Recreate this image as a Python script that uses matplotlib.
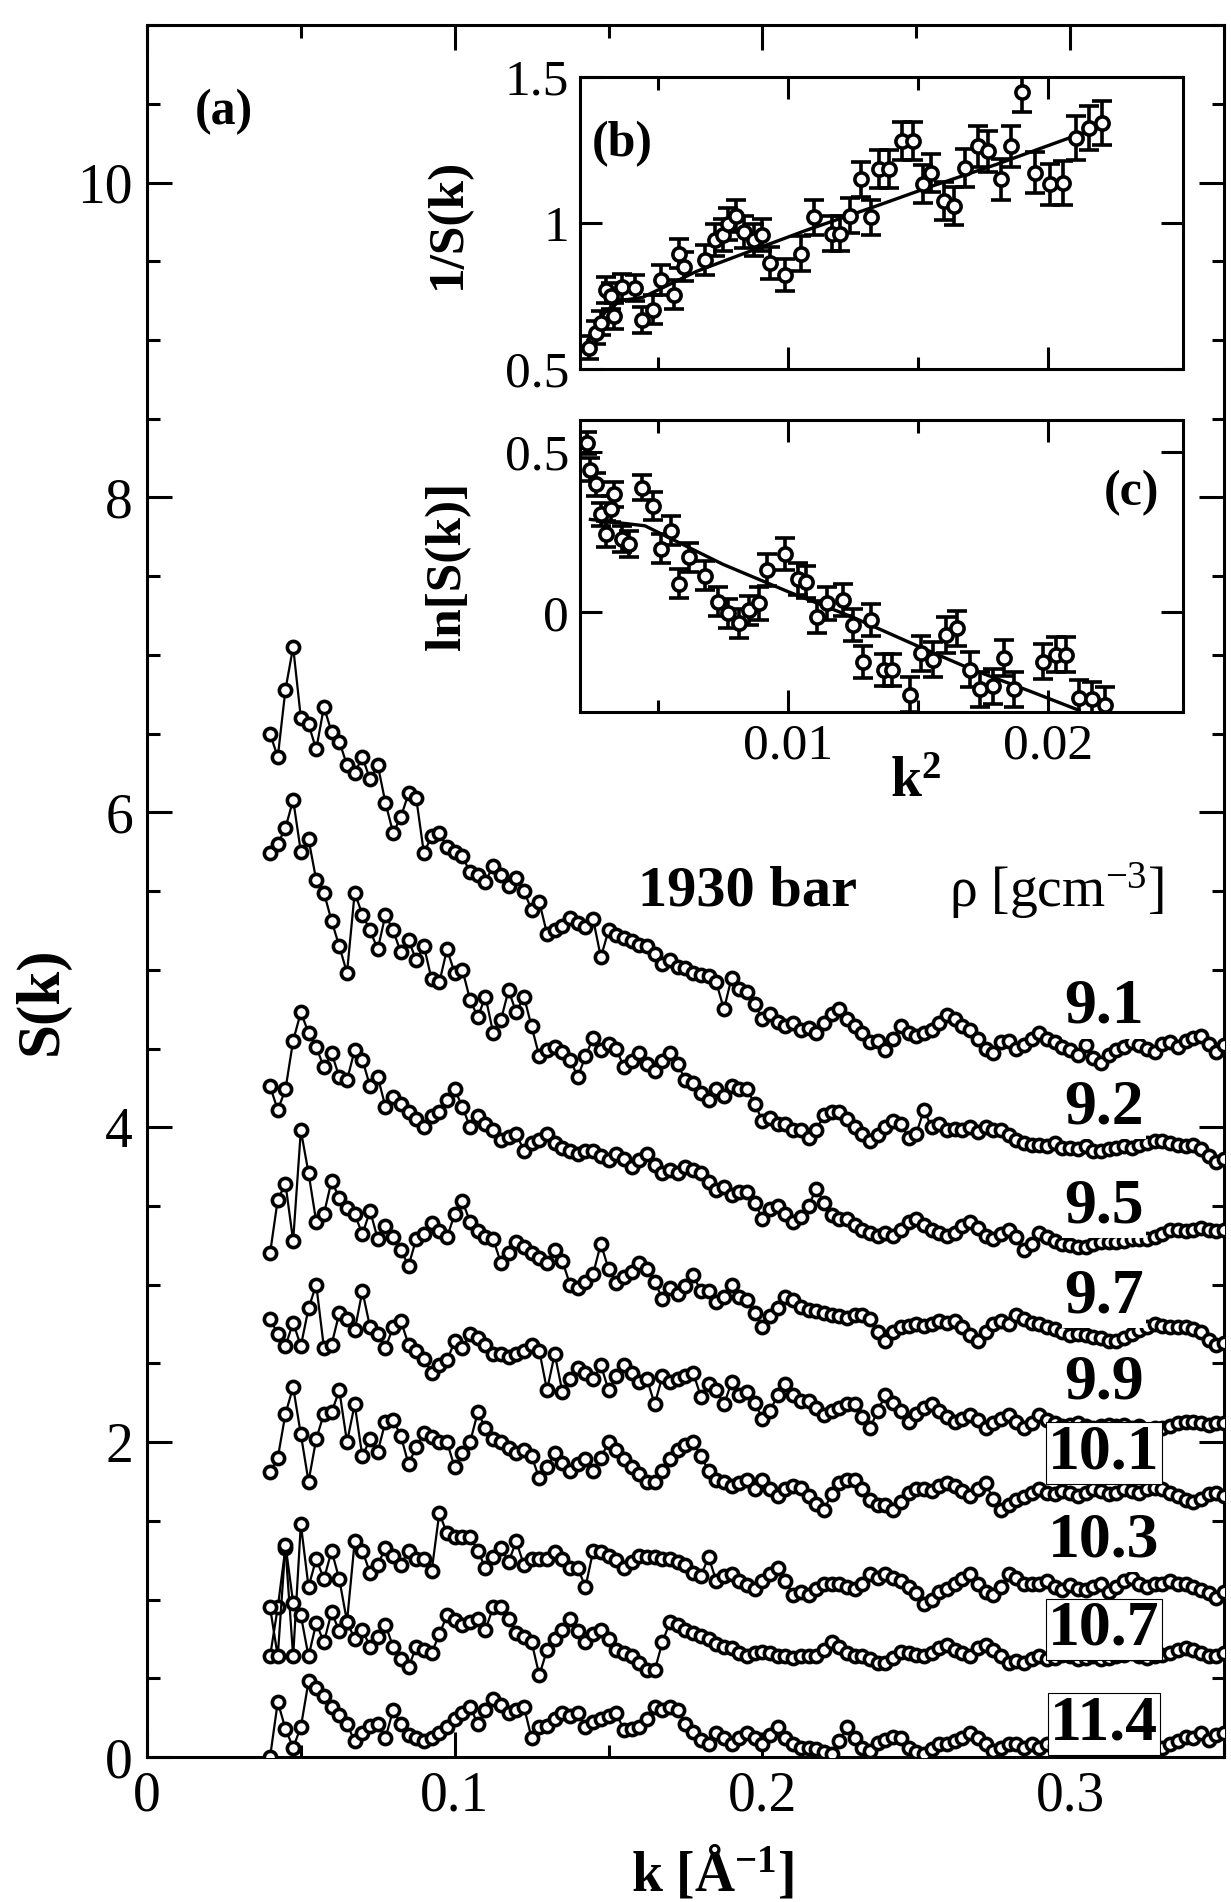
import numpy as np
import matplotlib
matplotlib.use('Agg')
import matplotlib.pyplot as plt
from matplotlib.ticker import MultipleLocator, FixedLocator, FixedFormatter

plt.rcParams['font.family'] = ['Liberation Serif', 'DejaVu Serif']
plt.rcParams['mathtext.fontset'] = 'custom'
plt.rcParams['mathtext.rm'] = 'Liberation Serif'
plt.rcParams['mathtext.bf'] = 'Liberation Serif:bold'
plt.rcParams['mathtext.it'] = 'Liberation Serif:italic'

# ---------------- data: main panel (a) ----------------
K_START = 0.040   # first k [1/A]
K_STEP = 0.0025   # k sampling step

densities = ['9.1', '9.2', '9.5', '9.7', '9.9', '10.1', '10.3', '10.7', '11.4']

S_9_1 = [6.50, 6.35, 6.78, 7.05, 6.60, 6.56, 6.40, 6.67, 6.51, 6.45,
         6.30, 6.25, 6.35, 6.21, 6.30, 6.06, 5.87, 5.97, 6.12, 6.09,
         5.74, 5.85, 5.87, 5.78, 5.75, 5.72, 5.62, 5.60, 5.56, 5.66,
         5.60, 5.53, 5.58, 5.50, 5.38, 5.43, 5.23, 5.25, 5.28, 5.33,
         5.30, 5.27, 5.32, 5.08, 5.25, 5.22, 5.20, 5.18, 5.16, 5.15,
         5.10, 5.04, 5.06, 5.02, 5.01, 4.98, 4.97, 4.96, 4.92, 4.75,
         4.95, 4.88, 4.86, 4.78, 4.69, 4.72, 4.67, 4.64, 4.66, 4.62,
         4.63, 4.60, 4.66, 4.72, 4.75, 4.69, 4.64, 4.60, 4.54, 4.55,
         4.49, 4.56, 4.64, 4.60, 4.58, 4.60, 4.62, 4.66, 4.71, 4.69,
         4.64, 4.62, 4.56, 4.50, 4.47, 4.54, 4.55, 4.50, 4.52, 4.56,
         4.60, 4.56, 4.54, 4.51, 4.49, 4.46, 4.52, 4.44, 4.41, 4.46,
         4.49, 4.51, 4.54, 4.52, 4.50, 4.48, 4.53, 4.54, 4.51, 4.55,
         4.57, 4.58, 4.53, 4.48, 4.52]

S_9_2 = [5.74, 5.80, 5.90, 6.08, 5.75, 5.83, 5.57, 5.49, 5.31, 5.15,
         4.98, 5.49, 5.35, 5.25, 5.13, 5.35, 5.25, 5.11, 5.19, 5.06,
         5.15, 4.94, 4.92, 5.13, 4.98, 5.00, 4.81, 4.70, 4.83, 4.60,
         4.68, 4.87, 4.73, 4.83, 4.64, 4.45, 4.49, 4.51, 4.48, 4.43,
         4.32, 4.45, 4.57, 4.49, 4.53, 4.50, 4.38, 4.42, 4.47, 4.40,
         4.36, 4.42, 4.47, 4.40, 4.30, 4.28, 4.22, 4.17, 4.24, 4.20,
         4.26, 4.24, 4.24, 4.15, 4.04, 4.06, 4.02, 4.02, 3.98, 3.98,
         3.93, 3.98, 4.08, 4.10, 4.10, 4.05, 4.00, 3.96, 3.91, 3.95,
         4.00, 4.04, 4.02, 3.93, 3.96, 4.11, 4.00, 4.02, 3.98, 3.99,
         3.98, 4.00, 3.97, 4.00, 3.98, 3.98, 3.95, 3.92, 3.90, 3.89,
         3.89, 3.88, 3.90, 3.87, 3.87, 3.86, 3.88, 3.85, 3.85, 3.86,
         3.87, 3.88, 3.87, 3.89, 3.90, 3.91, 3.91, 3.90, 3.89, 3.88,
         3.89, 3.86, 3.82, 3.78, 3.80]

S_9_5 = [4.26, 4.11, 4.24, 4.55, 4.73, 4.60, 4.51, 4.38, 4.47, 4.32,
         4.30, 4.49, 4.43, 4.26, 4.32, 4.13, 4.19, 4.15, 4.10, 4.05,
         4.00, 4.07, 4.10, 4.17, 4.24, 4.13, 4.00, 4.07, 4.02, 3.98,
         3.92, 3.94, 3.96, 3.85, 3.90, 3.92, 3.96, 3.90, 3.87, 3.85,
         3.83, 3.85, 3.85, 3.82, 3.79, 3.83, 3.80, 3.75, 3.79, 3.83,
         3.76, 3.71, 3.73, 3.71, 3.75, 3.73, 3.71, 3.65, 3.60, 3.62,
         3.57, 3.59, 3.59, 3.52, 3.42, 3.48, 3.50, 3.45, 3.40, 3.43,
         3.50, 3.61, 3.52, 3.44, 3.42, 3.42, 3.38, 3.35, 3.33, 3.31,
         3.33, 3.31, 3.35, 3.40, 3.42, 3.38, 3.35, 3.33, 3.31, 3.33,
         3.37, 3.40, 3.36, 3.31, 3.29, 3.32, 3.35, 3.30, 3.22, 3.26,
         3.33, 3.30, 3.28, 3.26, 3.25, 3.24, 3.24, 3.26, 3.27, 3.27,
         3.27, 3.28, 3.29, 3.29, 3.29, 3.30, 3.32, 3.35, 3.35, 3.34,
         3.35, 3.36, 3.35, 3.34, 3.35]

S_9_7 = [3.20, 3.54, 3.64, 3.28, 3.98, 3.71, 3.40, 3.45, 3.66, 3.55,
         3.49, 3.45, 3.32, 3.47, 3.29, 3.37, 3.30, 3.22, 3.12, 3.29,
         3.32, 3.39, 3.34, 3.30, 3.45, 3.53, 3.40, 3.34, 3.30, 3.29,
         3.14, 3.20, 3.27, 3.24, 3.20, 3.17, 3.14, 3.22, 3.15, 3.00,
         2.98, 3.02, 3.07, 3.26, 3.10, 3.01, 3.05, 3.08, 3.14, 3.10,
         3.02, 2.91, 2.98, 2.94, 2.99, 3.06, 2.96, 2.96, 2.89, 2.92,
         3.00, 2.92, 2.90, 2.82, 2.73, 2.80, 2.85, 2.92, 2.90, 2.86,
         2.84, 2.83, 2.82, 2.81, 2.80, 2.79, 2.81, 2.81, 2.78, 2.70,
         2.64, 2.70, 2.73, 2.74, 2.75, 2.74, 2.75, 2.77, 2.76, 2.77,
         2.73, 2.68, 2.64, 2.70, 2.75, 2.77, 2.75, 2.81, 2.78, 2.76,
         2.75, 2.73, 2.72, 2.70, 2.68, 2.69, 2.68, 2.67, 2.66, 2.64,
         2.64, 2.66, 2.69, 2.71, 2.73, 2.75, 2.74, 2.73, 2.73, 2.73,
         2.72, 2.70, 2.65, 2.62, 2.63]

S_9_9 = [2.78, 2.69, 2.61, 2.76, 2.61, 2.85, 3.00, 2.60, 2.62, 2.82,
         2.78, 2.71, 2.96, 2.73, 2.69, 2.60, 2.73, 2.77, 2.62, 2.58,
         2.53, 2.44, 2.49, 2.52, 2.64, 2.60, 2.69, 2.66, 2.62, 2.56,
         2.56, 2.54, 2.56, 2.58, 2.62, 2.58, 2.33, 2.56, 2.32, 2.40,
         2.47, 2.44, 2.40, 2.49, 2.33, 2.42, 2.49, 2.44, 2.38, 2.40,
         2.24, 2.42, 2.38, 2.40, 2.42, 2.44, 2.29, 2.37, 2.33, 2.24,
         2.38, 2.30, 2.32, 2.25, 2.15, 2.20, 2.30, 2.37, 2.30, 2.26,
         2.26, 2.22, 2.17, 2.20, 2.22, 2.24, 2.24, 2.16, 2.09, 2.20,
         2.30, 2.25, 2.20, 2.13, 2.18, 2.22, 2.24, 2.20, 2.16, 2.13,
         2.15, 2.17, 2.14, 2.09, 2.12, 2.15, 2.17, 2.13, 2.09, 2.12,
         2.17, 2.14, 2.12, 2.10, 2.11, 2.12, 2.10, 2.09, 2.10, 2.11,
         2.10, 2.11, 2.09, 2.10, 2.08, 2.09, 2.09, 2.10, 2.12, 2.13,
         2.13, 2.12, 2.11, 2.12, 2.12]

S_10_1 = [1.81, 1.90, 2.18, 2.35, 2.05, 1.75, 2.02, 2.18, 2.19, 2.33,
          2.00, 2.24, 1.91, 2.02, 1.94, 2.13, 2.14, 2.04, 1.86, 1.97,
          2.06, 2.03, 2.00, 2.00, 1.84, 1.93, 2.00, 2.19, 2.09, 2.02,
          2.00, 1.96, 1.93, 1.95, 1.91, 1.77, 1.84, 1.93, 1.87, 1.82,
          1.86, 1.89, 1.82, 1.90, 2.00, 1.95, 1.89, 1.84, 1.80, 1.75,
          1.75, 1.82, 1.89, 1.95, 1.98, 2.00, 1.91, 1.82, 1.76, 1.75,
          1.72, 1.74, 1.76, 1.70, 1.76, 1.70, 1.66, 1.70, 1.72, 1.71,
          1.66, 1.61, 1.57, 1.67, 1.74, 1.76, 1.76, 1.70, 1.63, 1.60,
          1.60, 1.57, 1.62, 1.68, 1.70, 1.70, 1.69, 1.72, 1.74, 1.72,
          1.69, 1.66, 1.70, 1.74, 1.64, 1.57, 1.60, 1.63, 1.65, 1.68,
          1.70, 1.68, 1.67, 1.69, 1.68, 1.66, 1.68, 1.70, 1.69, 1.67,
          1.68, 1.70, 1.69, 1.68, 1.70, 1.71, 1.70, 1.68, 1.66, 1.63,
          1.62, 1.64, 1.67, 1.68, 1.66]

S_10_3 = [0.64, 0.95, 1.33, 0.64, 1.48, 1.08, 1.26, 1.13, 1.31, 1.13,
          0.86, 1.37, 1.31, 1.17, 1.22, 1.33, 1.28, 1.22, 1.31, 1.26,
          1.26, 1.18, 1.55, 1.42, 1.40, 1.40, 1.40, 1.31, 1.20, 1.27,
          1.33, 1.24, 1.37, 1.22, 1.26, 1.26, 1.26, 1.30, 1.26, 1.20,
          1.20, 1.08, 1.31, 1.30, 1.28, 1.25, 1.20, 1.24, 1.28, 1.27,
          1.27, 1.26, 1.26, 1.24, 1.22, 1.17, 1.15, 1.27, 1.12, 1.15,
          1.16, 1.12, 1.09, 1.07, 1.12, 1.16, 1.20, 1.12, 1.03, 1.05,
          1.03, 1.07, 1.10, 1.10, 1.10, 1.08, 1.07, 1.10, 1.16, 1.14,
          1.16, 1.14, 1.12, 1.08, 1.04, 0.97, 1.00, 1.05, 1.07, 1.10,
          1.13, 1.16, 1.10, 1.05, 1.03, 1.08, 1.16, 1.14, 1.10, 1.10,
          1.10, 1.12, 1.08, 1.06, 1.09, 1.07, 1.06, 1.08, 1.10, 1.05,
          1.08, 1.12, 1.14, 1.10, 1.08, 1.10, 1.10, 1.12, 1.10, 1.10,
          1.08, 1.06, 1.04, 1.01, 1.05]

S_10_7 = [0.95, 0.64, 1.35, 0.98, 0.90, 0.64, 0.85, 0.73, 0.92, 0.80,
          0.86, 0.75, 0.81, 0.70, 0.76, 0.84, 0.70, 0.62, 0.57, 0.70,
          0.68, 0.66, 0.78, 0.90, 0.87, 0.84, 0.86, 0.88, 0.81, 0.95,
          0.95, 0.88, 0.79, 0.76, 0.73, 0.52, 0.68, 0.75, 0.81, 0.88,
          0.80, 0.73, 0.78, 0.81, 0.75, 0.68, 0.66, 0.64, 0.60, 0.55,
          0.55, 0.73, 0.86, 0.84, 0.81, 0.79, 0.77, 0.75, 0.72, 0.70,
          0.69, 0.66, 0.64, 0.66, 0.67, 0.66, 0.64, 0.64, 0.63, 0.64,
          0.64, 0.64, 0.68, 0.73, 0.70, 0.66, 0.64, 0.64, 0.62, 0.60,
          0.60, 0.63, 0.67, 0.66, 0.65, 0.64, 0.66, 0.69, 0.71, 0.68,
          0.66, 0.64, 0.69, 0.71, 0.68, 0.64, 0.60, 0.61, 0.60, 0.62,
          0.64, 0.62, 0.63, 0.65, 0.64, 0.62, 0.63, 0.64, 0.62, 0.63,
          0.64, 0.65, 0.66, 0.64, 0.63, 0.64, 0.65, 0.66, 0.68, 0.69,
          0.68, 0.66, 0.64, 0.64, 0.66]

S_11_4 = [0.00, 0.35, 0.18, 0.06, 0.19, 0.48, 0.44, 0.39, 0.32, 0.27,
          0.21, 0.10, 0.15, 0.20, 0.21, 0.12, 0.30, 0.21, 0.14, 0.12,
          0.10, 0.12, 0.15, 0.19, 0.24, 0.28, 0.32, 0.21, 0.30, 0.37,
          0.33, 0.28, 0.30, 0.32, 0.12, 0.19, 0.20, 0.24, 0.28, 0.26,
          0.28, 0.19, 0.22, 0.24, 0.26, 0.28, 0.17, 0.18, 0.19, 0.24,
          0.32, 0.30, 0.32, 0.30, 0.21, 0.16, 0.11, 0.08, 0.15, 0.12,
          0.08, 0.12, 0.15, 0.12, 0.08, 0.14, 0.19, 0.12, 0.08, 0.06,
          0.06, 0.05, 0.03, 0.02, 0.10, 0.19, 0.12, 0.06, 0.04, 0.09,
          0.11, 0.13, 0.12, 0.06, 0.03, 0.02, 0.05, 0.08, 0.08, 0.10,
          0.12, 0.15, 0.12, 0.08, 0.04, 0.06, 0.08, 0.08, 0.06, 0.08,
          0.06, 0.08, 0.07, 0.06, 0.05, 0.06, 0.07, 0.05, 0.06, 0.05,
          0.05, 0.06, 0.05, 0.04, 0.05, 0.04, 0.06, 0.08, 0.10, 0.13,
          0.12, 0.15, 0.11, 0.14, 0.15]

series = [S_9_1, S_9_2, S_9_5, S_9_7, S_9_9, S_10_1, S_10_3, S_10_7, S_11_4]

# ---------------- data: inset (b) 1/S(k) vs k^2 ----------------
k2_b = [0.00235, 0.0026, 0.0028, 0.0030, 0.0032, 0.0033, 0.0036, 0.0041, 0.0044, 0.0048,
        0.0051, 0.0056, 0.0058, 0.0060, 0.0068, 0.0072, 0.0075, 0.0077, 0.0080, 0.0083,
        0.0087, 0.0090, 0.0093, 0.0099, 0.0105, 0.0110, 0.0117, 0.0120, 0.0124, 0.0128,
        0.0132, 0.0135, 0.0139, 0.0144, 0.0148, 0.0152, 0.0155, 0.0160, 0.0164, 0.0168,
        0.0173, 0.0177, 0.0182, 0.0186, 0.0190, 0.0195, 0.0201, 0.0206, 0.0211, 0.0216,
        0.0221]
invS_b = [0.573, 0.624, 0.658, 0.771, 0.749, 0.681, 0.782, 0.777, 0.669, 0.703,
          0.805, 0.754, 0.895, 0.850, 0.873, 0.941, 0.958, 0.997, 1.025, 0.969,
          0.941, 0.958, 0.862, 0.822, 0.895, 1.020, 0.963, 0.963, 1.025, 1.150,
          1.020, 1.184, 1.184, 1.280, 1.280, 1.133, 1.172, 1.076, 1.059, 1.189,
          1.263, 1.246, 1.150, 1.263, 1.449, 1.172, 1.133, 1.138, 1.291, 1.325,
          1.342]
err_b = [0.040, 0.040, 0.040, 0.045, 0.045, 0.045, 0.045, 0.045, 0.045, 0.050,
         0.050, 0.050, 0.050, 0.050, 0.050, 0.055, 0.055, 0.055, 0.055, 0.055,
         0.055, 0.055, 0.055, 0.055, 0.060, 0.060, 0.060, 0.060, 0.060, 0.060,
         0.060, 0.065, 0.065, 0.065, 0.065, 0.065, 0.065, 0.065, 0.065, 0.065,
         0.070, 0.070, 0.070, 0.070, 0.070, 0.070, 0.070, 0.075, 0.075, 0.075,
         0.075]
fit_b_k2 = [0.0023, 0.0030, 0.0036, 0.0044, 0.0065, 0.0088, 0.0107, 0.0133, 0.0155, 0.0180, 0.0214]
fit_b_val = [0.600, 0.700, 0.735, 0.745, 0.835, 0.912, 0.975, 1.055, 1.125, 1.200, 1.310]

# ---------------- data: inset (c) ln S(k) vs k^2 ----------------
k2_c = [0.00225, 0.0024, 0.0026, 0.0028, 0.0030, 0.0032, 0.0033, 0.0036, 0.0039, 0.0044,
        0.0048, 0.0051, 0.0055, 0.0058, 0.0062, 0.0068, 0.0073, 0.0077, 0.0081, 0.0085,
        0.0089, 0.0092, 0.0099, 0.0104, 0.0107, 0.0111, 0.0115, 0.0121, 0.0125, 0.0129,
        0.0132, 0.0137, 0.0140, 0.0147, 0.0151, 0.0156, 0.0161, 0.0165, 0.0170, 0.0174,
        0.0179, 0.0183, 0.0187, 0.0198, 0.0203, 0.0207, 0.0212, 0.0217, 0.0222]
lnS_c = [0.528, 0.445, 0.399, 0.306, 0.244, 0.322, 0.368, 0.229, 0.213, 0.389,
         0.332, 0.198, 0.255, 0.090, 0.172, 0.115, 0.033, -0.003, -0.034, 0.007,
         0.028, 0.131, 0.182, 0.105, 0.095, -0.013, 0.028, 0.038, -0.039, -0.153,
         -0.024, -0.178, -0.178, -0.256, -0.127, -0.147, -0.070, -0.049, -0.178, -0.240,
         -0.230, -0.142, -0.240, -0.153, -0.132, -0.132, -0.266, -0.271, -0.287]
err_c = [0.035, 0.035, 0.035, 0.035, 0.040, 0.040, 0.040, 0.040, 0.040, 0.040,
         0.045, 0.045, 0.045, 0.045, 0.045, 0.045, 0.045, 0.045, 0.045, 0.045,
         0.050, 0.050, 0.050, 0.050, 0.050, 0.050, 0.050, 0.050, 0.050, 0.050,
         0.050, 0.050, 0.050, 0.055, 0.055, 0.055, 0.055, 0.055, 0.055, 0.055,
         0.055, 0.055, 0.055, 0.055, 0.055, 0.055, 0.055, 0.055, 0.055]
fit_c_k2 = [0.0024, 0.0045, 0.0075, 0.0100, 0.0125, 0.0150, 0.0170, 0.0193, 0.0212]
fit_c_val = [0.290, 0.270, 0.150, 0.065, -0.015, -0.105, -0.175, -0.245, -0.305]

# ---------------- figure ----------------
fig = plt.figure(figsize=(12.31, 19.02), dpi=100)
SP = 2.2  # spine width

ax = fig.add_axes([0.1194, 0.0762, 0.8749, 0.9106])
k = K_START + K_STEP * np.arange(len(S_9_1))
for S in series:
    ax.plot(k, S, '-', color='black', lw=1.6, marker='o', ms=8.8,
            mfc='white', mec='black', mew=2.6, zorder=3)

ax.set_xlim(0, 0.35)
ax.set_ylim(0, 11)
ax.xaxis.set_major_locator(FixedLocator([0, 0.1, 0.2, 0.3]))
ax.xaxis.set_major_formatter(FixedFormatter(['0', '0.1', '0.2', '0.3']))
ax.xaxis.set_minor_locator(MultipleLocator(0.05))
ax.yaxis.set_major_locator(MultipleLocator(2))
ax.yaxis.set_minor_locator(MultipleLocator(0.5))
ax.tick_params(which='both', direction='in', top=True, right=True, width=SP)
ax.tick_params(which='major', length=18, labelsize=40, pad=10)
ax.tick_params(which='minor', length=9)
for s in ax.spines.values():
    s.set_linewidth(SP)

ax.set_xlabel(r'k [Å$^{\mathbf{-1}}$]', fontsize=40, fontweight='bold', va='center')
ax.xaxis.set_label_coords(0.5255, -0.0675)
ax.set_ylabel('S(k)', fontsize=44, fontweight='bold', va='center')
ax.yaxis.set_label_coords(-0.0975, 0.4365)

ax.text(0.025, 10.45, '(a)', fontsize=36, fontweight='bold', ha='center', va='center')
ax.text(0.1953, 5.50, '1930 bar', fontsize=42, fontweight='bold', ha='center', va='center')
ax.text(0.2955, 5.50, r'ρ [gcm$^{\mathrm{-3}}$]', fontsize=40, ha='center', va='center')

label_y = [4.76, 4.12, 3.49, 2.92, 2.37, 1.93, 1.37, 0.81, 0.21]
label_edge = ['none', 'none', 'none', 'none', 'none', 'black', 'none', 'black', 'black']
for name, yy, ec in zip(densities, label_y, label_edge):
    ax.text(0.311, yy, name, fontsize=46, fontweight='bold', ha='center', va='center',
            zorder=10, bbox=dict(facecolor='white', edgecolor=ec, linewidth=0.8, pad=1.5))

# ---------------- inset (b) ----------------
XL = (0.0020, 0.0252)
axb = fig.add_axes([0.4712, 0.8060, 0.4898, 0.1535])
axb.plot(fit_b_k2, fit_b_val, color='black', lw=2.4, zorder=2)
axb.errorbar(k2_b, invS_b, yerr=err_b, fmt='o', ms=9.5, mfc='white', mec='black', mew=2.6,
             ecolor='black', elinewidth=2.6, capsize=7, capthick=2.6, zorder=3)
axb.set_xlim(*XL)
axb.set_ylim(0.5, 1.5)
axb.yaxis.set_major_locator(FixedLocator([0.5, 1.0, 1.5]))
axb.yaxis.set_major_formatter(FixedFormatter(['0.5', '1', '1.5']))
axb.xaxis.set_major_locator(FixedLocator([0.01, 0.02]))
axb.xaxis.set_minor_locator(FixedLocator([0.005, 0.015]))
axb.tick_params(axis='x', labelbottom=False)
axb.set_ylabel('1/S(k)', fontsize=37, fontweight='bold', va='center')
axb.yaxis.set_label_coords(-0.219, 0.5)
axb.text(0.02, 0.77, '(b)', transform=axb.transAxes, fontsize=36, fontweight='bold',
         ha='left', va='center')

# ---------------- inset (c) ----------------
axc = fig.add_axes([0.4712, 0.6257, 0.4898, 0.1535])
axc.plot(fit_c_k2, fit_c_val, color='black', lw=2.4, zorder=2)
axc.errorbar(k2_c, lnS_c, yerr=err_c, fmt='o', ms=9.5, mfc='white', mec='black', mew=2.6,
             ecolor='black', elinewidth=2.6, capsize=7, capthick=2.6, zorder=3)
axc.set_xlim(*XL)
axc.set_ylim(-0.31, 0.60)
axc.yaxis.set_major_locator(FixedLocator([0.0, 0.5]))
axc.yaxis.set_major_formatter(FixedFormatter(['0', '0.5']))
axc.xaxis.set_major_locator(FixedLocator([0.01, 0.02]))
axc.xaxis.set_major_formatter(FixedFormatter(['0.01', '0.02']))
axc.xaxis.set_minor_locator(FixedLocator([0.005, 0.015]))
axc.set_ylabel('ln[S(k)]', fontsize=37, fontweight='bold', va='center')
axc.yaxis.set_label_coords(-0.219, 0.5)
axc.set_xlabel(r'k$^{\mathbf{2}}$', fontsize=40, fontweight='bold', va='center')
axc.xaxis.set_label_coords(0.556, -0.243)
axc.text(0.96, 0.75, '(c)', transform=axc.transAxes, fontsize=36, fontweight='bold',
         ha='right', va='center')

for a in (axb, axc):
    a.tick_params(which='both', direction='in', top=True, right=True, width=SP)
    a.tick_params(which='major', length=16, labelsize=37, pad=8)
    a.tick_params(which='minor', length=9)
    for s in a.spines.values():
        s.set_linewidth(SP)

fig.savefig('out.png', dpi=100)
